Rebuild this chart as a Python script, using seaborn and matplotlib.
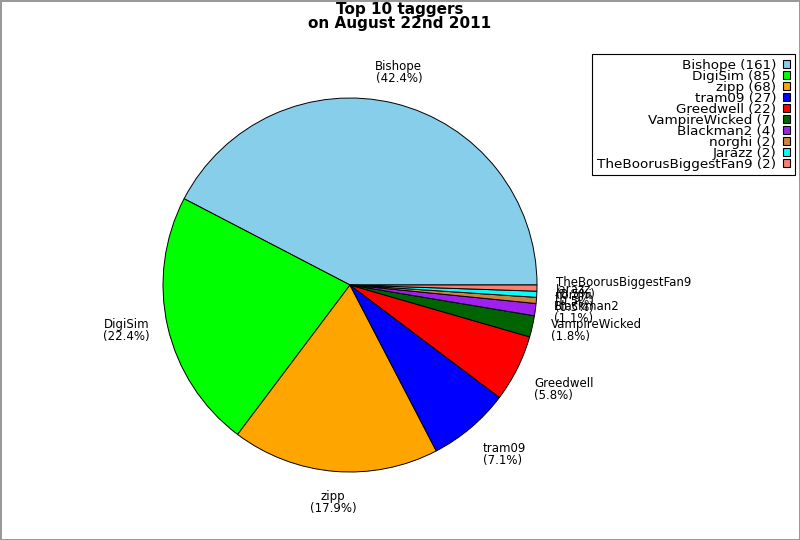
import numpy as np
import matplotlib
matplotlib.use("Agg")
import matplotlib.pyplot as plt
import seaborn as sns

# data
names = ["Bishope", "DigiSim", "zipp", "tram09", "Greedwell", "VampireWicked",
         "Blackman2", "norghi", "Jarazz", "TheBoorusBiggestFan9"]
counts = [161, 85, 68, 27, 22, 7, 4, 2, 2, 2]
colors = ["#87ceeb", "#00ff00", "#ffa500", "#0000ff", "#ff0000", "#006400",
          "#a020f0", "#cd853f", "#00ffff", "#fa8072"]

sns.set_theme(style="white")
plt.rcParams['font.family'] = ['DejaVu Sans']
plt.rcParams['text.color'] = 'black'

fig = plt.figure(figsize=(8, 5.4), dpi=100)
fig.patch.set_edgecolor("#999999")
fig.patch.set_linewidth(2)

# pie centre (350, 285) px, radius 187 px
ax = fig.add_axes([(350 - 187) / 800, (540 - 285 - 187) / 540, 374 / 800, 374 / 540])
pal = sns.color_palette(colors)
wedges, _ = ax.pie(counts, colors=pal, startangle=0, counterclock=True,
                   wedgeprops=dict(edgecolor="black", linewidth=0.7))
ax.set_xlim(-1, 1)
ax.set_ylim(-1, 1)
ax.set_aspect("equal")
ax.axis("off")

total = sum(counts)
for w, n, c in zip(wedges, names, counts):
    mid = np.deg2rad((w.theta1 + w.theta2) / 2)
    x, y = np.cos(mid) * 1.1, np.sin(mid) * 1.1
    ha = "left" if np.cos(mid) > 0.5 else ("right" if np.cos(mid) < -0.5 else "center")
    va = "bottom" if np.sin(mid) > 0.3 else ("top" if np.sin(mid) < -0.3 else "center")
    ax.text(x, y, f"{n}\n({c / total * 100:.1f}%)", ha=ha, va=va, fontsize=8.5,
            linespacing=0.9, multialignment="center" if ha == "center" else ha,
            color="black", clip_on=False)

fig.text(0.5, 1 - 2 / 540, "Top 10 taggers\non August 22nd 2011", ha="center", va="top",
         fontsize=11, fontweight="bold", linespacing=0.9, color="black")

handles = [plt.Rectangle((0, 0), 1, 1, facecolor=col, edgecolor="black", linewidth=0.8)
           for col in pal]
labels = [f"{n} ({c})" for n, c in zip(names, counts)]
leg = fig.legend(handles, labels, loc="upper right", bbox_to_anchor=(795 / 800, 1 - 54 / 540),
                 markerfirst=False, fontsize=9.7, frameon=True, fancybox=False,
                 edgecolor="black", framealpha=1, borderaxespad=0, labelspacing=-0.15,
                 handlelength=0.55, handleheight=0.6, handletextpad=0.5, borderpad=0.35)
leg.get_frame().set_linewidth(0.8)
for t in leg.get_texts():
    t.set_color("black")

fig.savefig("out.png", dpi=100, edgecolor=fig.get_edgecolor())
